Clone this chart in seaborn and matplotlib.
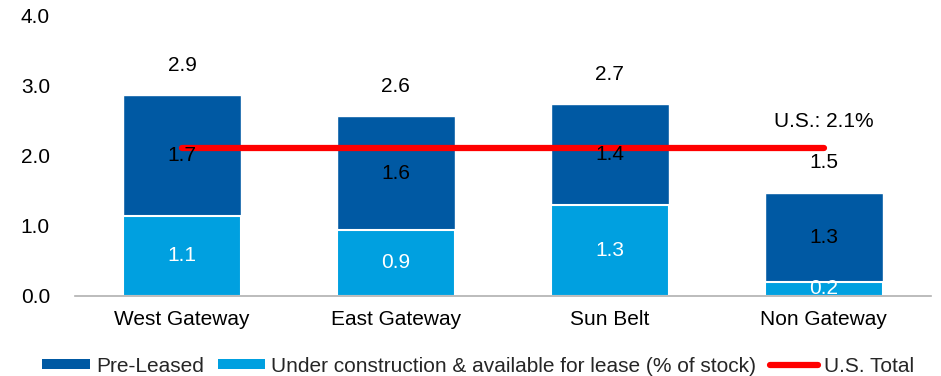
import numpy as np
import pandas as pd
import matplotlib
matplotlib.use("Agg")
import matplotlib.pyplot as plt
from matplotlib.patches import Patch
from matplotlib.lines import Line2D
import seaborn as sns

# Data (% of stock)
regions = ["West Gateway", "East Gateway", "Sun Belt", "Non Gateway"]
available = [1.14, 0.94, 1.30, 0.20]   # under construction & available for lease
pre_leased = [1.72, 1.62, 1.43, 1.27]
us_total = 2.1
y_ticks = [0.0, 1.0, 2.0, 3.0, 4.0]

DARK = "#0059A3"
LIGHT = "#00A0E0"
RED = "#FF0000"
FS = 15

sns.set_theme(style="white")
plt.rcParams["font.family"] = ["Liberation Sans", "DejaVu Sans"]

df = pd.DataFrame({"region": regions, "available": available, "pre_leased": pre_leased})
df["total"] = df["available"] + df["pre_leased"]

fig = plt.figure(figsize=(9.41, 3.76), dpi=100)
ax = fig.add_axes([0.0797, 0.2128, 0.9093, 0.7472])

# Stacked bars: full height in dark, lower segment drawn over it in light
sns.barplot(data=df, x="region", y="total", color=DARK, saturation=1, width=0.55,
            edgecolor="white", linewidth=1, ax=ax)
sns.barplot(data=df, x="region", y="available", color=LIGHT, saturation=1, width=0.55,
            edgecolor="white", linewidth=1.5, ax=ax)

# U.S. total reference line
xs = np.arange(len(regions))
sns.lineplot(x=xs, y=[us_total] * len(regions), color=RED, linewidth=4.5,
             solid_capstyle="round", ax=ax, zorder=5)
ax.annotate(f"U.S.: {us_total:.1f}%", xy=(xs[-1], us_total), xytext=(0, 19.5),
            textcoords="offset points", ha="center", va="center", fontsize=FS,
            color="black")

# Segment and total labels
for i, row in df.iterrows():
    ax.text(i, row["available"] / 2, f"{row['available']:.1f}", ha="center",
            va="center", color="white", fontsize=FS, zorder=6)
    ax.text(i, row["available"] + row["pre_leased"] / 2, f"{row['pre_leased']:.1f}",
            ha="center", va="center", color="black", fontsize=FS, zorder=6)
    ax.annotate(f"{row['total']:.1f}", xy=(i, row["total"]), xytext=(0, 21.5),
                textcoords="offset points", ha="center", va="center",
                fontsize=FS, color="black")

ax.set_ylim(0, 4.0)
ax.set_xlim(-0.5, len(regions) - 0.5)
ax.set_yticks(y_ticks)
ax.set_yticklabels([f"{t:.1f}" for t in y_ticks])
ax.set_xlabel("")
ax.set_ylabel("")
ax.tick_params(axis="y", length=0, pad=18, labelsize=FS, labelcolor="black")
ax.tick_params(axis="x", length=0, pad=10, labelsize=FS, labelcolor="black")

for side in ["top", "right", "left"]:
    ax.spines[side].set_visible(False)
ax.spines["bottom"].set_color("#B0B0B0")
ax.spines["bottom"].set_linewidth(1.2)

handles = [
    Patch(facecolor=DARK, edgecolor="none", label="Pre-Leased"),
    Patch(facecolor=LIGHT, edgecolor="none", label="Under construction & available for lease (% of stock)"),
    Line2D([0], [0], color=RED, linewidth=4.5, solid_capstyle="round", label="U.S. Total"),
]
fig.legend(handles=handles, loc="center", bbox_to_anchor=(0.508, 0.026), ncol=3,
           frameon=False, fontsize=FS, handlelength=2.3, handleheight=0.38,
           handletextpad=0.28, columnspacing=0.65, borderpad=0)

fig.savefig("out.png", dpi=100)
